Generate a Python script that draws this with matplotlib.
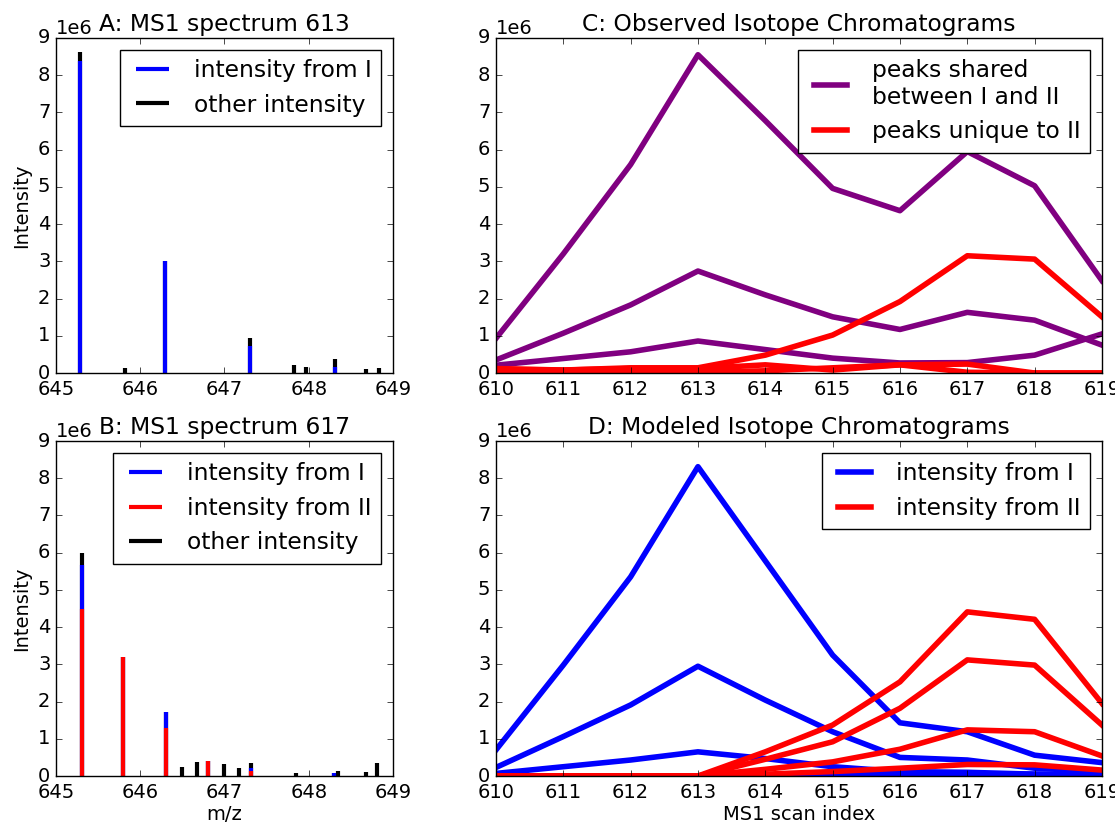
import matplotlib
matplotlib.use("Agg")
import matplotlib.pyplot as plt
from matplotlib.ticker import MultipleLocator

# ---- panel A: MS1 spectrum 613 ----
a_mz = [645.29, 645.82, 646.30, 647.30, 647.83, 647.97, 648.31, 648.68, 648.83]
a_total = [8.62e6, 0.14e6, 3.02e6, 0.93e6, 0.22e6, 0.17e6, 0.37e6, 0.12e6, 0.14e6]
a_from_I = [8.38e6, 0, 3.02e6, 0.73e6, 0, 0, 0.17e6, 0, 0]

# ---- panel B: MS1 spectrum 617 ----
b_mz = [645.31, 645.79, 646.31, 646.50, 646.67, 646.81, 647.00, 647.17, 647.32,
        647.85, 648.30, 648.35, 648.68, 648.81]
b_total = [6.00e6, 3.20e6, 1.72e6, 0.23e6, 0.38e6, 0.41e6, 0.31e6, 0.21e6, 0.34e6,
           0.09e6, 0.07e6, 0.14e6, 0.10e6, 0.36e6]
b_from_I_II = [5.67e6, 3.19e6, 1.72e6, 0, 0, 0.41e6, 0, 0, 0.22e6,
               0, 0.07e6, 0, 0, 0]
b_from_II = [4.49e6, 3.19e6, 1.30e6, 0, 0, 0.41e6, 0, 0, 0.14e6,
             0, 0, 0, 0, 0]

# ---- panel C: observed isotope chromatograms ----
scans = [610, 611, 612, 613, 614, 615, 616, 617, 618, 619]
shared = [
    [0.93e6, 3.20e6, 5.60e6, 8.55e6, 6.78e6, 4.96e6, 4.36e6, 5.95e6, 5.03e6, 2.48e6],
    [0.35e6, 1.07e6, 1.83e6, 2.74e6, 2.10e6, 1.51e6, 1.17e6, 1.63e6, 1.42e6, 0.75e6],
    [0.21e6, 0.39e6, 0.57e6, 0.86e6, 0.63e6, 0.40e6, 0.27e6, 0.28e6, 0.48e6, 1.05e6],
]
unique_II = [
    [0.12e6, 0.08e6, 0.14e6, 0.14e6, 0.48e6, 1.02e6, 1.92e6, 3.15e6, 3.06e6, 1.51e6],
    [0.10e6, 0.08e6, 0.12e6, 0.12e6, 0.22e6, 0.08e6, 0.22e6, 0.24e6, 0.0, 0.0],
    [0.05e6, 0.03e6, 0.05e6, 0.02e6, 0.06e6, 0.14e6, 0.22e6, 0.02e6, 0.0, 0.0],
]

# ---- panel D: modeled isotope chromatograms ----
model_I = [
    [0.70e6, 2.98e6, 5.35e6, 8.31e6, 5.78e6, 3.25e6, 1.43e6, 1.19e6, 0.56e6, 0.36e6],
    [0.23e6, 1.06e6, 1.91e6, 2.95e6, 2.04e6, 1.19e6, 0.50e6, 0.43e6, 0.21e6, 0.12e6],
    [0.07e6, 0.25e6, 0.43e6, 0.65e6, 0.47e6, 0.25e6, 0.12e6, 0.10e6, 0.05e6, 0.03e6],
    [0.0, 0.0, 0.0, 0.0, 0.03e6, 0.05e6, 0.06e6, 0.06e6, 0.05e6, 0.04e6],
]
model_II = [
    [0.0, 0.0, 0.0, 0.0, 0.65e6, 1.37e6, 2.53e6, 4.41e6, 4.21e6, 1.95e6],
    [0.0, 0.0, 0.0, 0.0, 0.45e6, 0.92e6, 1.82e6, 3.12e6, 2.98e6, 1.37e6],
    [0.0, 0.0, 0.0, 0.0, 0.18e6, 0.38e6, 0.72e6, 1.24e6, 1.19e6, 0.54e6],
    [0.0, 0.0, 0.0, 0.0, 0.05e6, 0.12e6, 0.21e6, 0.31e6, 0.30e6, 0.16e6],
]

plt.style.use('classic')
plt.rcParams['font.size'] = 14
plt.rcParams['font.family'] = ['DejaVu Sans']
plt.rcParams['xtick.major.pad'] = 5

fig = plt.figure(figsize=(11.15, 8.26), dpi=100, facecolor='white')
axA = fig.add_axes([0.0502, 0.5484, 0.3022, 0.4056])
axB = fig.add_axes([0.0502, 0.0605, 0.3022, 0.4056])
axC = fig.add_axes([0.4448, 0.5484, 0.5435, 0.4056])
axD = fig.add_axes([0.4448, 0.0605, 0.5435, 0.4056])

LW_BAR = 3
LW = 4

# A
axA.vlines(a_mz, 0, a_total, color='k', lw=LW_BAR, label='other intensity')
axA.vlines(a_mz, 0, a_from_I, color='b', lw=LW_BAR, label='intensity from I')
h, l = axA.get_legend_handles_labels()
axA.legend(h[::-1], l[::-1], loc='upper right')
axA.set_ylabel('Intensity')
axA.set_title('A: MS1 spectrum 613')

# B
axB.vlines(b_mz, 0, b_total, color='k', lw=LW_BAR, label='other intensity')
axB.vlines(b_mz, 0, b_from_I_II, color='b', lw=LW_BAR, label='intensity from I')
axB.vlines(b_mz, 0, b_from_II, color='r', lw=LW_BAR, label='intensity from II')
h, l = axB.get_legend_handles_labels()
axB.legend([h[1], h[2], h[0]], [l[1], l[2], l[0]], loc='upper right')
axB.set_ylabel('Intensity')
axB.set_xlabel('m/z', labelpad=2)
axB.set_title('B: MS1 spectrum 617')

# C
for i, ys in enumerate(shared):
    axC.plot(scans, ys, color='purple', lw=LW,
             label='peaks shared\nbetween I and II' if i == 0 else None)
for i, ys in enumerate(unique_II):
    axC.plot(scans, ys, color='r', lw=LW,
             label='peaks unique to II' if i == 0 else None)
axC.legend(loc='upper right')
axC.set_title('C: Observed Isotope Chromatograms')

# D
for i, ys in enumerate(model_I):
    axD.plot(scans, ys, color='b', lw=LW, label='intensity from I' if i == 0 else None)
for i, ys in enumerate(model_II):
    axD.plot(scans, ys, color='r', lw=LW, label='intensity from II' if i == 0 else None)
axD.legend(loc='upper right')
axD.set_xlabel('MS1 scan index', labelpad=2)
axD.set_title('D: Modeled Isotope Chromatograms')

for ax in (axA, axB):
    ax.set_xlim(645, 649)
    ax.xaxis.set_major_locator(MultipleLocator(1))
for ax in (axC, axD):
    ax.set_xlim(610, 619)
    ax.xaxis.set_major_locator(MultipleLocator(1))
for ax in (axA, axB, axC, axD):
    ax.set_ylim(0, 9e6)
    ax.yaxis.set_major_locator(MultipleLocator(1e6))
    ax.ticklabel_format(axis='y', style='sci', scilimits=(0, 0))
    ax.ticklabel_format(axis='x', useOffset=False)

fig.savefig('out.png', dpi=100, facecolor='white')
